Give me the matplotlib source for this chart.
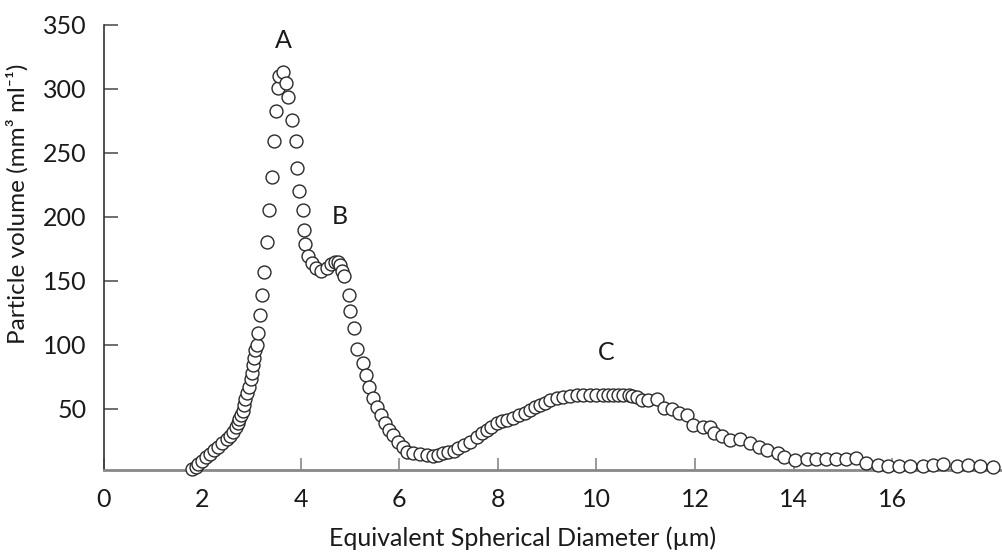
import matplotlib
matplotlib.use("Agg")
import matplotlib.pyplot as plt

plt.rcParams['font.family'] = ['Lato', 'DejaVu Sans']

diameter = [
    1.80, 1.87, 1.92, 1.99, 2.07, 2.16, 2.25, 2.33, 2.41, 2.50, 2.57, 2.63, 2.68, 2.72,
    2.75, 2.79, 2.82, 2.86, 2.88, 2.92, 2.96, 2.99, 3.01, 3.03, 3.05, 3.07,
    3.11, 3.14, 3.17, 3.22, 3.26, 3.31, 3.36, 3.42, 3.46, 3.50, 3.53, 3.56, 3.635,
    3.70, 3.75, 3.82, 3.90, 3.93, 3.97, 4.04, 4.07, 4.09,
    4.15, 4.23, 4.31, 4.41, 4.53, 4.61, 4.69, 4.76, 4.80, 4.84, 4.88,
    4.97, 5.01, 5.08, 5.15, 5.27, 5.32, 5.39, 5.46, 5.54,
    5.62, 5.71, 5.80, 5.88, 5.98, 6.07, 6.15, 6.27, 6.41, 6.56, 6.68, 6.79, 6.89,
    6.99, 7.10, 7.20, 7.31, 7.43, 7.57, 7.67, 7.77, 7.87, 7.98, 8.08, 8.18, 8.31,
    8.43, 8.55, 8.65, 8.75, 8.85, 8.96, 9.06, 9.19, 9.33, 9.46, 9.60, 9.73, 9.87,
    10.00, 10.14, 10.24, 10.34, 10.44, 10.54, 10.65, 10.73, 10.82, 10.92, 11.05,
    11.22, 11.36, 11.53, 11.68, 11.83, 11.95, 12.17, 12.30, 12.38, 12.54, 12.71,
    12.91, 13.11, 13.30, 13.45, 13.69, 13.80, 14.03, 14.26, 14.45, 14.66, 14.86,
    15.06, 15.26, 15.47, 15.72, 15.92, 16.14, 16.36, 16.63, 16.83, 17.03, 17.31,
    17.54, 17.78, 18.04,
]
volume = [
    3.0, 4.5, 6.5, 9.0, 12.0, 14.5, 17.7, 20.3, 22.9, 26.0, 28.6, 32.0, 35.4, 38.5,
    41.7, 45.0, 48.4, 52.9, 57.3, 62.0, 67.1, 72.9, 78.1, 84.1, 89.4, 95.9,
    100, 109, 123, 139, 157, 180, 205, 231, 259, 283, 301, 310, 313,
    305, 294, 276, 259, 238, 220, 205, 190, 179,
    169, 164, 160, 158, 160, 163, 165, 165, 162, 158, 154,
    139, 126, 113, 97, 86, 76, 67, 58, 51.5,
    45, 38.5, 33.3, 29.4, 24.2, 20.3, 16.3, 15.1, 14.5, 13.8, 13.0, 13.8, 15.1,
    16.3, 17.1, 19.0, 21.6, 24.2, 28.1, 30.7, 33.3, 35.9, 38.5, 40.6, 41.5, 42.5,
    45.0, 46.8, 48.9, 51.1, 52.9, 54.6, 56.8, 58.1, 59.3, 59.9, 60.4, 60.7, 60.7,
    60.7, 60.7, 60.7, 60.7, 60.7, 60.7, 60.5, 60.0, 58.8, 57.0, 56.8,
    57.5, 50.3, 49.5, 46.4, 45.0, 37.2, 35.9, 35.9, 30.7, 28.6, 25.5,
    26.0, 22.9, 19.8, 17.7, 15.1, 12.0, 9.9, 10.4, 10.6, 10.6, 10.6,
    10.6, 11.2, 7.7, 5.9, 5.2, 5.2, 5.2, 5.2, 5.9, 6.7, 5.2,
    5.9, 5.2, 4.6,
]

x_ticks = [0, 2, 4, 6, 8, 10, 12, 14, 16]
y_ticks = [50, 100, 150, 200, 250, 300, 350]
peak_labels = ["A", "B", "C"]
peak_x = [3.64, 4.80, 10.2]
peak_y = [338, 200, 94]

fig = plt.figure(figsize=(10.03, 5.55), dpi=100)
ax = fig.add_axes([103.5 / 1003, 84.7 / 555, (1003 - 103.5) / 1003, (470.3 - 25) / 555])

ax.plot(diameter, volume, linestyle='none', marker='o', markersize=9.3,
        markerfacecolor='white', markeredgecolor='#2a2a2a', markeredgewidth=1.0,
        clip_on=False, zorder=3)

ax.set_xlim(0, (1003 - 103.5) / 49.3)
ax.set_ylim(1.8, 350)
ax.set_xticks(x_ticks)
ax.set_xticklabels([str(t) for t in x_ticks])
ax.set_yticks(y_ticks)
ax.set_yticklabels([str(t) for t in y_ticks])

ax.spines['top'].set_visible(False)
ax.spines['right'].set_visible(False)
ax.spines['left'].set_color('#333333')
ax.spines['bottom'].set_color('#888888')
ax.spines['left'].set_linewidth(1.2)
ax.spines['bottom'].set_linewidth(2.0)
ax.tick_params(axis='x', direction='in', length=9, width=1.2, colors='#888888',
               labelcolor='#1a1a1a', labelsize=18, pad=13)
ax.tick_params(axis='y', direction='in', length=10, width=1.2, colors='#555555',
               labelcolor='#1a1a1a', labelsize=18, pad=12)

ax.set_xlabel('Equivalent Spherical Diameter (µm)', fontsize=18, color='#1a1a1a')
ax.xaxis.set_label_coords(0.466, -0.125)
ax.set_ylabel('Particle volume (mm³ ml⁻¹)', fontsize=17.5, color='#1a1a1a')
ax.yaxis.set_label_coords(-0.083, 0.598)

for lab, px, py in zip(peak_labels, peak_x, peak_y):
    ax.text(px, py, lab, fontsize=18, ha='center', va='center', color='#1a1a1a')

fig.savefig('out.png', dpi=100)
